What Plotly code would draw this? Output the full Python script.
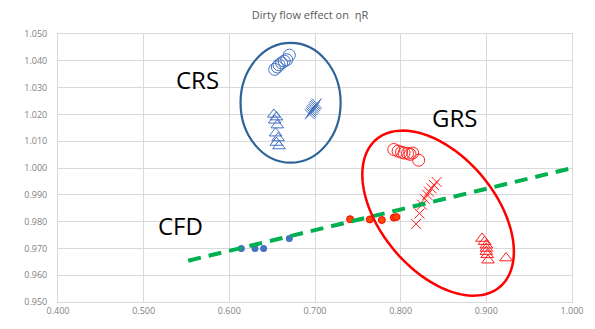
import numpy as np
import plotly.graph_objects as go

# ---- data ----
x_ticks = [0.4, 0.5, 0.6, 0.7, 0.8, 0.9, 1.0]
x_tick_labels = ["0.400", "0.500", "0.600", "0.700", "0.800", "0.900", "1.000"]
y_ticks = [0.95, 0.96, 0.97, 0.98, 0.99, 1.00, 1.01, 1.02, 1.03, 1.04, 1.05]
y_tick_labels = ["0.950", "0.960", "0.970", "0.980", "0.990", "1.000",
                 "1.010", "1.020", "1.030", "1.040", "1.050"]

crs_circle_x = [0.653, 0.656, 0.658, 0.661, 0.664, 0.667, 0.670]
crs_circle_y = [1.0368, 1.0377, 1.0385, 1.0392, 1.0399, 1.0404, 1.0421]
crs_tri_x = [0.652, 0.655, 0.653, 0.656, 0.654, 0.657, 0.655, 0.658]
crs_tri_y = [1.0200, 1.0190, 1.0178, 1.0160, 1.0130, 1.0112, 1.0095, 1.0082]
crs_x_x = [0.694, 0.695, 0.696, 0.697, 0.698, 0.699, 0.700, 0.701, 0.702]
crs_x_y = [1.0200, 1.0206, 1.0211, 1.0216, 1.0221, 1.0226, 1.0231, 1.0236, 1.0241]

grs_circle_x = [0.792, 0.797, 0.801, 0.804, 0.808, 0.811, 0.814, 0.821]
grs_circle_y = [1.0069, 1.0063, 1.0059, 1.0056, 1.0055, 1.0051, 1.0056, 1.0029]
grs_x_x = [0.818, 0.822, 0.825, 0.828, 0.831, 0.833, 0.836, 0.839, 0.842]
grs_x_y = [0.9791, 0.9830, 0.9863, 0.9885, 0.9900, 0.9912, 0.9924, 0.9936, 0.9948]
grs_tri_x = [0.895, 0.898, 0.900, 0.900, 0.900, 0.901, 0.902, 0.923]
grs_tri_y = [0.9737, 0.9725, 0.9712, 0.9700, 0.9688, 0.9676, 0.9656, 0.9664]

cfd_blue_x = [0.614, 0.630, 0.640, 0.670]
cfd_blue_y = [0.9700, 0.9700, 0.9700, 0.9737]
cfd_red_x = [0.741, 0.764, 0.778, 0.792, 0.795]
cfd_red_y = [0.9809, 0.9808, 0.9806, 0.9815, 0.9817]

trend_x = [0.552, 1.007]
trend_y = [0.9654, 1.0005]

# ---- layout constants ----
W, H = 595, 329
ML, MR, MT, MB = 58, 15, 34, 19
X_RANGE = [0.4, 1.0]
Y_RANGE = [0.95, 1.05]
PX_PER_X = (W - ML - MR) / (X_RANGE[1] - X_RANGE[0])
PX_PER_Y = (H - MT - MB) / (Y_RANGE[1] - Y_RANGE[0])

BLUE = "#4472C4"
RED = "#FF2020"

fig = go.Figure()


def add(x, y, symbol, color, size, lw=1.0, fill=None):
    marker = dict(symbol=symbol, size=size, color=fill if fill else color,
                  line=dict(color=color, width=lw))
    fig.add_trace(go.Scatter(x=x, y=y, mode="markers", marker=marker,
                             showlegend=False, hoverinfo="x+y"))


add(crs_circle_x, crs_circle_y, "circle-open", BLUE, 12)
add(crs_tri_x, crs_tri_y, "triangle-up-open", BLUE, 11)
add(crs_x_x, crs_x_y, "x-thin-open", BLUE, 10)
add(grs_circle_x, grs_circle_y, "circle-open", RED, 12)
add(grs_x_x, grs_x_y, "x-thin-open", RED, 10)
add(grs_tri_x, grs_tri_y, "triangle-up-open", RED, 11)
add(cfd_blue_x, cfd_blue_y, "circle", BLUE, 7, lw=0, fill=BLUE)
add(cfd_red_x, cfd_red_y, "circle", "#FF0000", 7, lw=1, fill="#FF4500")

fig.add_trace(go.Scatter(x=trend_x, y=trend_y, mode="lines",
                         line=dict(color="#00B050", width=4, dash="13px,8px"),
                         showlegend=False, hoverinfo="skip"))

# CRS ellipse (axis aligned)
fig.add_shape(type="circle", xref="x", yref="y",
              x0=0.6131, x1=0.7299, y0=1.0020, y1=1.0467,
              line=dict(color="#2E6399", width=2.2))

# GRS ellipse (rotated) built in pixel space
cx, cy = 0.8437, 0.98316
a_px, b_px, theta = 98.5, 58.7, np.deg2rad(51)
t = np.linspace(0, 2 * np.pi, 121)
dx = a_px * np.cos(t) * np.cos(theta) - b_px * np.sin(t) * np.sin(theta)
dy = a_px * np.cos(t) * np.sin(theta) + b_px * np.sin(t) * np.cos(theta)
ex = cx + dx / PX_PER_X
ey = cy - dy / PX_PER_Y
path = "M " + " L ".join(f"{px:.5f},{py:.5f}" for px, py in zip(ex, ey)) + " Z"
fig.add_shape(type="path", xref="x", yref="y", path=path,
              line=dict(color="#FF0000", width=2.5))

LABEL_FONT = dict(family="Open Sans", size=24, color="#000000")
for txt, x, y in [("CRS", 0.5632, 1.0331), ("GRS", 0.8626, 1.0189), ("CFD", 0.5425, 0.9787)]:
    fig.add_annotation(x=x, y=y, xref="x", yref="y", text=txt, showarrow=False,
                       font=LABEL_FONT, xanchor="center", yanchor="middle")

fig.update_layout(
    width=W, height=H,
    margin=dict(l=ML, r=MR, t=MT, b=MB),
    paper_bgcolor="white", plot_bgcolor="white",
    title=dict(text="Dirty flow effect on  ηR", x=310 / W, xanchor="center",
               y=1 - 15.5 / H, yanchor="middle",
               font=dict(family="Open Sans", size=11, color="#595959")),
    xaxis=dict(range=X_RANGE, tickvals=x_ticks, ticktext=x_tick_labels,
               showgrid=True, gridcolor="#D9D9D9", gridwidth=1,
               showline=True, linecolor="#D9D9D9", mirror=True, zeroline=False,
               ticks="", tickfont=dict(family="Open Sans", size=9, color="#7F7F7F")),
    yaxis=dict(range=Y_RANGE, tickvals=y_ticks, ticktext=y_tick_labels,
               showgrid=True, gridcolor="#D9D9D9", gridwidth=1,
               showline=True, linecolor="#D9D9D9", mirror=True, zeroline=False,
               ticks="", ticklabelstandoff=8,
               tickfont=dict(family="Open Sans", size=9, color="#7F7F7F")),
)

fig.write_html("out.html")
